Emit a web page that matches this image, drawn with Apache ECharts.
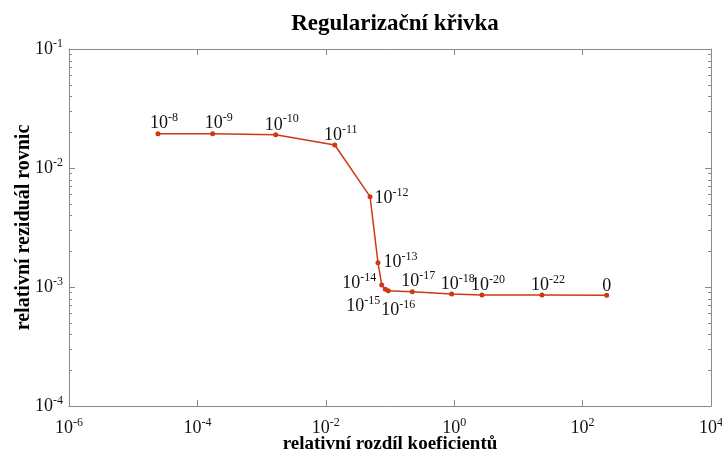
<!DOCTYPE html>
<html><head><meta charset="utf-8">
<script src="https://cdn.jsdelivr.net/npm/echarts@6/dist/echarts.min.js"></script>
<style>html,body{margin:0;padding:0;background:#fff}#c{width:722px;height:455px}</style>
</head><body><div id="c"></div>
<script>
// ---- data ----
const xValues = [2.43e-5, 1.73e-4, 1.66e-3, 0.0138, 0.0489, 0.065, 0.0743, 0.0845, 0.094, 0.222, 0.914, 2.71, 23.3, 237];
const yValues = [0.0194, 0.0194, 0.0190, 0.0156, 0.00574, 0.0016, 0.00104, 0.000957, 0.00093, 0.000914, 0.000873, 0.000857, 0.000855, 0.000853];
const pointLabels = ['-8', '-9', '-10', '-11', '-12', '-13', '-14', '-15', '-16', '-17', '-18', '-20', '-22', '0'];
const xTickExps = [-6, -4, -2, 0, 2, 4];
const yTickExps = [-4, -3, -2, -1];
const yMinorTicks = [2e-4, 3e-4, 4e-4, 5e-4, 6e-4, 7e-4, 8e-4, 9e-4,
                     2e-3, 3e-3, 4e-3, 5e-3, 6e-3, 7e-3, 8e-3, 9e-3,
                     2e-2, 3e-2, 4e-2, 5e-2, 6e-2, 7e-2, 8e-2, 9e-2];

const SERIF = 'Liberation Serif, Times New Roman, serif';
const AX = '#8a8a8a';
const RED = '#cc3a14';
const rich = {
  b: { fontFamily: SERIF, fontSize: 18, color: '#111' },
  s: { fontFamily: SERIF, fontSize: 12, color: '#111', padding: [0, 0, 11, 0] }
};
function powLabel(e) { return '{b|10}{s|' + e + '}'; }
function tickFmt(exps) {
  return function (v) {
    const e = Math.round(Math.log10(v));
    return exps.indexOf(e) >= 0 ? powLabel(e) : '';
  };
}
// label placement per point (layout, not data)
function labelFor(i) {
  const isZero = pointLabels[i] === '0';
  const base = { show: true, rich: rich, formatter: isZero ? '{b|0}' : powLabel(pointLabels[i]) };
  const place = {
    4: { position: 'right', distance: 2, offset: [0, 2] },
    5: { position: 'right', distance: 3, offset: [0, 0] },
    6: { position: 'left', distance: 3, offset: [0, -2] },
    7: { position: 'bottom', distance: 0, offset: [-22, 3] },
    8: { position: 'bottom', distance: 2, offset: [10, 4] },
    13: { position: 'top', distance: 1, offset: [0, 4] }
  }[i] || { position: 'top', distance: 1, offset: [6, 5] };
  return Object.assign(base, place);
}

const chart = echarts.init(document.getElementById('c'), null, { renderer: 'canvas' });
const axisCommon = {
  axisLine: { show: true, lineStyle: { color: AX, width: 1 } },
  axisTick: { show: true, inside: true, length: 6, lineStyle: { color: AX } },
  splitLine: { show: false },
  minorTick: { show: false },
  minorSplitLine: { show: false }
};
chart.setOption({
  animation: false,
  backgroundColor: '#fff',
  title: {
    text: 'Regularizační křivka', left: 390, top: 8, textAlign: 'center',
    textStyle: { fontFamily: SERIF, fontWeight: 'bold', fontSize: 23, color: '#000' }
  },
  grid: { left: 69, right: 11, top: 49, bottom: 49, containLabel: false, outerBoundsMode: 'none' },
  xAxis: [
    Object.assign({
      type: 'log', logBase: 10, min: 1e-6, max: 1e4, interval: 2, position: 'bottom',
      name: 'relativní rozdíl koeficientů', nameLocation: 'middle', nameGap: 29, nameMoveOverlap: false,
      nameTextStyle: { fontFamily: SERIF, fontWeight: 'bold', fontSize: 19, color: '#000' },
      axisLabel: { formatter: tickFmt(xTickExps), rich: rich, margin: 11 }
    }, axisCommon),
    Object.assign({
      type: 'log', logBase: 10, min: 1e-6, max: 1e4, interval: 2, position: 'top',
      axisLabel: { show: false }
    }, axisCommon)
  ],
  yAxis: [
    Object.assign({
      type: 'log', logBase: 10, min: 1e-4, max: 1e-1, interval: 1, position: 'left',
      name: 'relativní reziduál rovnic', nameLocation: 'middle', nameGap: 35, nameMoveOverlap: false,
      nameTextStyle: { fontFamily: SERIF, fontWeight: 'bold', fontSize: 20, color: '#000' },
      axisLabel: { formatter: tickFmt(yTickExps), rich: rich, margin: 6 }
    }, axisCommon),
    Object.assign({
      type: 'log', logBase: 10, min: 1e-4, max: 1e-1, interval: 1, position: 'right',
      axisLabel: { show: false }
    }, axisCommon)
  ],
  series: [
    {
      type: 'custom', silent: true, z: 1,
      xAxisIndex: 0, yAxisIndex: 0,
      data: yMinorTicks.map(v => [1e-6, v]),
      renderItem: function (params, api) {
        const p = api.coord([api.value(0), api.value(1)]);
        const cs = params.coordSys;
        const y = Math.round(p[1]) + 0.5;
        return {
          type: 'group', children: [
            { type: 'line', shape: { x1: cs.x, y1: y, x2: cs.x + 3, y2: y }, style: { stroke: AX, lineWidth: 1 } },
            { type: 'line', shape: { x1: cs.x + cs.width, y1: y, x2: cs.x + cs.width - 3, y2: y }, style: { stroke: AX, lineWidth: 1 } }
          ]
        };
      }
    },
    {
      type: 'line', xAxisIndex: 0, yAxisIndex: 0, z: 3,
      symbol: 'circle', symbolSize: 5,
      lineStyle: { color: RED, width: 1.5 },
      itemStyle: { color: RED },
      data: xValues.map((x, i) => ({ value: [x, yValues[i]], label: labelFor(i) }))
    }
  ]
});
</script>
</body></html>
